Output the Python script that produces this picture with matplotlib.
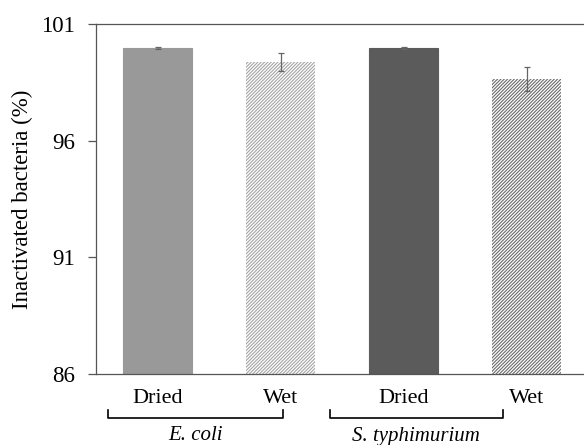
import matplotlib.pyplot as plt
from matplotlib.lines import Line2D
import matplotlib.transforms as mtransforms

plt.rcParams['font.family'] = ['Liberation Serif', 'DejaVu Serif']
plt.rcParams['hatch.linewidth'] = 0.8

# data
conditions = ['Dried', 'Wet', 'Dried', 'Wet']
species = ['E. coli', 'S. typhimurium']
values = [99.97, 99.37, 99.97, 98.64]
errors = [0.03, 0.40, 0.03, 0.50]

face_colors = ['#999999', 'white', '#5b5b5b', 'white']
edge_colors = ['#999999', '#a5a5a5', '#5b5b5b', '#6a6a6a']
hatches = [None, '/' * 10, None, '/' * 10]
edge_widths = [0.8, 0, 0.8, 0]

fig = plt.figure(figsize=(5.84, 4.45), dpi=100)
ax = fig.add_axes([96 / 584, 71 / 445, 492 / 584, 350 / 445])

x = list(range(len(values)))
for i in x:
    ax.bar(i, values[i] - 86, bottom=86, width=0.56, color=face_colors[i],
           edgecolor=edge_colors[i], hatch=hatches[i], linewidth=edge_widths[i], zorder=2)
ax.errorbar(x, values, yerr=errors, fmt='none', ecolor='#666666',
            elinewidth=0.9, capsize=2, capthick=0.9, zorder=3)

ax.set_ylim(86, 101)
ax.set_xlim(-0.5, 3.5)
ax.set_yticks([86, 91, 96, 101])
ax.set_xticks(x)
ax.set_xticklabels(conditions, fontsize=16)
ax.tick_params(axis='y', labelsize=16.5, length=5.5, width=0.9, color='#555555', pad=9.5)
ax.tick_params(axis='x', length=0, pad=11)
ax.set_ylabel('Inactivated bacteria (%)', fontsize=16.5, labelpad=6)

for s in ['left', 'top', 'bottom']:
    ax.spines[s].set_color('#555555')
    ax.spines[s].set_linewidth(0.9)
ax.spines['right'].set_visible(False)

# group brackets and species names below axis
trans = mtransforms.blended_transform_factory(ax.transData, ax.transAxes)
brackets = [(-0.40, 1.02), (1.40, 2.81)]
for (x0, x1), name in zip(brackets, species):
    ax.add_line(Line2D([x0, x0, x1, x1], [-0.103, -0.126, -0.126, -0.103],
                       transform=trans, color='black', linewidth=1.2, clip_on=False))
    ax.text((x0 + x1) / 2, -0.15, name, transform=trans, ha='center', va='top',
            fontsize=15, style='italic')

plt.savefig('out.png', dpi=100)
